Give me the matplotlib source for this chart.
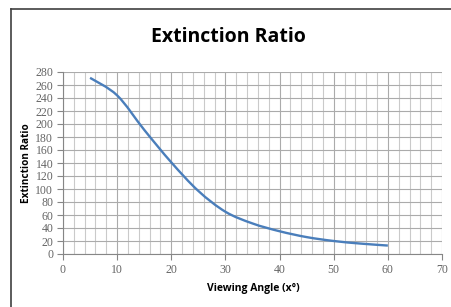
import numpy as np
import matplotlib
matplotlib.use('Agg')
import matplotlib.pyplot as plt
from matplotlib.lines import Line2D
from matplotlib.path import Path
from matplotlib.patches import PathPatch

# data
angle = [5, 10, 15, 20, 25, 30, 35, 40, 45, 50, 55, 60]
ratio = [271, 244, 191, 141, 97, 65, 47, 35, 26, 20, 16, 13]

x_ticks = list(range(0, 71, 10))
y_ticks = list(range(0, 281, 20))

fig = plt.figure(figsize=(4.51, 3.07), dpi=100)
ax = fig.add_axes([63/451, 1 - 254/307, (442 - 63)/451, (254 - 72)/307])

# smoothed line like the spreadsheet one: bezier segments through the data points
pts = np.column_stack([angle, ratio]).astype(float)
verts = [pts[0]]
codes = [Path.MOVETO]
n = len(pts)
for i in range(n - 1):
    p0 = pts[max(i - 1, 0)]
    p1 = pts[i]
    p2 = pts[i + 1]
    p3 = pts[min(i + 2, n - 1)]
    c1 = p1 + (p2 - p0) / 6
    c2 = p2 - (p3 - p1) / 6
    verts += [c1, c2, p2]
    codes += [Path.CURVE4] * 3
ax.add_patch(PathPatch(Path(verts, codes), facecolor='none', edgecolor='#4a7ebb',
                       linewidth=1.7, capstyle='butt', zorder=3))

ax.set_xlim(0, 70)
ax.set_ylim(0, 280)
ax.set_xticks(x_ticks)
ax.set_yticks(y_ticks)
ax.set_xticks(np.arange(0, 71, 2), minor=True)

ax.grid(True, which='major', color='#ababab', linewidth=0.8)
ax.grid(True, which='minor', axis='x', color='#cacaca', linewidth=0.8)
ax.set_axisbelow(True)

for s in ['top', 'right']:
    ax.spines[s].set_visible(False)
for s in ['left', 'bottom']:
    ax.spines[s].set_color('#868686')
    ax.spines[s].set_linewidth(0.8)

ax.tick_params(which='major', direction='out', length=4, width=0.8, color='#868686',
               labelsize=8.5, labelcolor='#656565', pad=3)
ax.tick_params(which='minor', length=0)
for lab in ax.get_xticklabels() + ax.get_yticklabels():
    lab.set_fontfamily('Liberation Serif')

ax.set_xlabel('Viewing Angle (x°)', fontsize=7.5, fontweight='bold', family='Open Sans', va='center')
ax.set_ylabel('Extinction Ratio', fontsize=7.2, fontweight='bold', family='Open Sans', va='center')
ax.xaxis.set_label_coords((253 - 63) / 379, (254 - 288) / 182)
ax.yaxis.set_label_coords((27 - 63) / 379, (254 - 163) / 182)

fig.text(228/451, 1 - 37/307, 'Extinction Ratio', ha='center', va='center',
         fontsize=14, fontweight='bold', family='Open Sans')

# chart area border
fig.add_artist(Line2D([10.5/451, 10.5/451], [0, 1 - 9/307], color='#404040', linewidth=1.2))
fig.add_artist(Line2D([10.5/451, 1], [1 - 9/307, 1 - 9/307], color='#404040', linewidth=1.2))

fig.savefig('out.png', dpi=100)
